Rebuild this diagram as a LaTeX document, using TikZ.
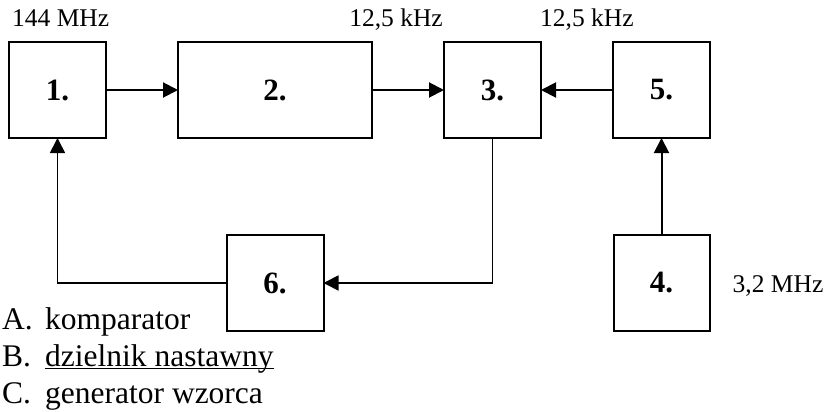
\documentclass[tikz,border=0pt]{standalone}
\usepackage{fontspec}
\setmainfont{Liberation Serif}
\usepackage{tikz}
\usetikzlibrary{positioning, arrows.meta}

\begin{document}
\begin{tikzpicture}[
    x=1pt, y=-1pt,
    % Square blocks with bold numbers
    block/.style={
        draw=black,
        line width=2pt,
        rectangle,
        outer sep=0pt,
        minimum width=97pt,
        minimum height=96pt,
        font=\fontsize{31}{36}\selectfont\bfseries
    },
    % Frequency labels next to the blocks
    freq/.style={
        inner sep=0pt,
        font=\fontsize{25.5}{30}\selectfont
    },
    % Answer list under the diagram
    item/.style={
        inner sep=0pt,
        anchor=base west,
        font=\fontsize{31.5}{37}\selectfont
    },
    % Filled triangle arrows
    arrow/.style={
        -{Triangle[length=15pt, width=15pt]},
        draw=black,
        line width=2pt
    }
]
\useasboundingbox (0,0) rectangle (830,412);

% --- TOP ROW ---
\node[block] (b1) at (57.5,90) {1.};
\node[block, right=72pt of b1, minimum width=194pt] (b2) {2.};
\node[block, right=72pt of b2] (b3) {3.};
\node[block, right=72pt of b3] (b5) {5.};

% --- BOTTOM ROW ---
\node[block, below=97pt of b5, minimum width=96pt] (b4) {4.};
\node[block, below=97pt of b2] (b6) {6.};

% --- FREQUENCY LABELS ---
\node[freq, anchor=base west] (f144) at ([xshift=3pt, yshift=15pt]b1.north west) {144 MHz};
\node[freq, anchor=base east] (fin) at ([xshift=-1pt, yshift=15pt]b3.north west) {12,5 kHz};
\node[freq, anchor=base west] (fref) at ([xshift=-1pt, yshift=15pt]b3.north east) {12,5 kHz};
\node[freq, anchor=base west] (fosc) at ([xshift=23pt, yshift=-9pt]b4.east) {3,2 MHz};

% --- SIGNAL PATHS ---
\draw[arrow] (b1) -- (b2);
\draw[arrow] (b2) -- (b3);
\draw[arrow] (b5) -- (b3);
\draw[arrow] (b4) -- (b5);

% Loop back through block 6
\draw[arrow, line width=1.7pt] (b3.south) |- (b6.east);
\draw[arrow, line width=1.7pt] (b6.west) -| (b1.south);

% --- ANSWER LIST ---
\node[item] (la) at (2,329) {A.};
\node[item] (ta) at (45,329) {komparator};
\node[item] (lb) at (2,366) {B.};
\node[item] (tb) at (45,366) {dzielnik nastawny};
\node[item] (lc) at (2,403) {C.};
\node[item] (tc) at (45,403) {generator wzorca};
\draw[line width=1.8pt] ([yshift=-2.5pt]tb.base west) -- ([yshift=-2.5pt]tb.base east);

\end{tikzpicture}
\end{document}
